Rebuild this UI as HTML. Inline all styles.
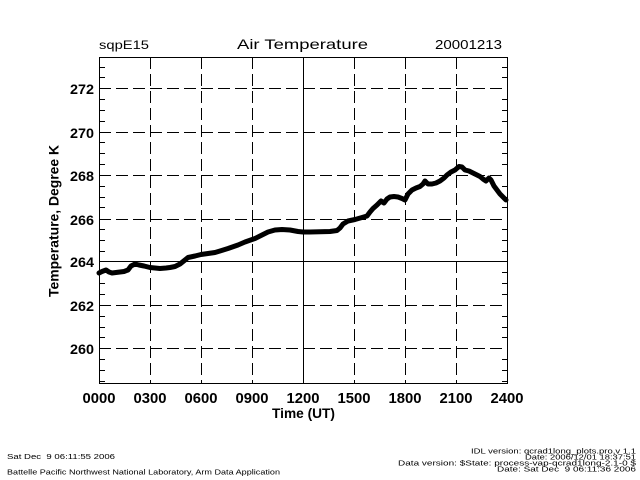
<!DOCTYPE html>
<html>
<head>
<meta charset="utf-8">
<style>
html,body{margin:0;padding:0;background:#fff;}
svg{display:block;}
text{font-family:"Liberation Sans",sans-serif;fill:#000;}
</style>
</head>
<body>
<svg width="640" height="480" viewBox="0 0 640 480" xmlns="http://www.w3.org/2000/svg">
<rect width="640" height="480" fill="#fff"/>

<!-- header texts -->
<text x="99" y="49" font-size="12" textLength="50" lengthAdjust="spacingAndGlyphs">sqpE15</text>
<text x="237" y="49" font-size="14" textLength="131" lengthAdjust="spacingAndGlyphs">Air Temperature</text>
<text x="435" y="49" font-size="13" textLength="67" lengthAdjust="spacingAndGlyphs">20001213</text>

<!-- grid -->
<g stroke="#000" stroke-width="1" fill="none" shape-rendering="crispEdges">
  <g stroke-dasharray="12,5">
    <line x1="99" y1="88.5" x2="507" y2="88.5"/>
    <line x1="99" y1="132.5" x2="507" y2="132.5"/>
    <line x1="99" y1="175.5" x2="507" y2="175.5"/>
    <line x1="99" y1="219.5" x2="507" y2="219.5"/>
    <line x1="99" y1="305.5" x2="507" y2="305.5"/>
    <line x1="99" y1="348.5" x2="507" y2="348.5"/>
    <line x1="150.5" y1="57" x2="150.5" y2="383"/>
    <line x1="201.5" y1="57" x2="201.5" y2="383"/>
    <line x1="252.5" y1="57" x2="252.5" y2="383"/>
    <line x1="354.5" y1="57" x2="354.5" y2="383"/>
    <line x1="405.5" y1="57" x2="405.5" y2="383"/>
    <line x1="456.5" y1="57" x2="456.5" y2="383"/>
  </g>
  <line x1="99" y1="261.5" x2="507" y2="261.5"/>
  <line x1="303.5" y1="57" x2="303.5" y2="383"/>
  <!-- frame -->
  <rect x="99.5" y="57.5" width="408" height="326"/>
  <!-- minor ticks -->
  <path d="M99 381.5h6M99 370.5h6M99 359.5h6M99 337.5h6M99 327.5h6M99 316.5h6M99 294.5h6M99 283.5h6M99 272.5h6M99 251.5h6M99 240.5h6M99 229.5h6M99 207.5h6M99 197.5h6M99 186.5h6M99 164.5h6M99 153.5h6M99 142.5h6M99 121.5h6M99 110.5h6M99 99.5h6M99 77.5h6M99 67.5h6
           M502 381.5h6M502 370.5h6M502 359.5h6M502 337.5h6M502 327.5h6M502 316.5h6M502 294.5h6M502 283.5h6M502 272.5h6M502 251.5h6M502 240.5h6M502 229.5h6M502 207.5h6M502 197.5h6M502 186.5h6M502 164.5h6M502 153.5h6M502 142.5h6M502 121.5h6M502 110.5h6M502 99.5h6M502 77.5h6M502 67.5h6"/>
</g>

<!-- data -->
<polyline fill="none" stroke="#000" stroke-width="5" stroke-linejoin="round" stroke-linecap="round"
points="99,273 102,271.5 106,270 109,272 112,273 116,272.5 120,272 124,271.5 128,270 131,266 135,264 139,265 144,266 150,267.5 155,268 160,268.5 166,268 170,267.5 175,266.5 180,264 185,260 188,257.5 195,256 201,254.5 208,253.5 215,252.5 220,251 228,248.5 238,245 245,242 255,238.5 262,235 268,232 275,230 282,229.5 290,230 298,231.5 303,232 310,232 320,231.8 330,231.5 337,230.5 340,228 343,224 348,221 355,219.5 362,217.5 367,216 370,212 373,208.5 377,205 381,201 384,203 387,199 390,197 394,196.5 398,197 402,198.5 405,200 408,194 412,190 416,188 420,186.5 423,184 425,181 428,184 432,184 436,183 440,181 444,178 447,175 451,172 455,170 459,166.5 462,167 465,170 469,171 473,173 477,175 480,176.5 483,179 486,181 489,178 491,180 494,186 497,190 500,194 503,197 506,200"/>

<!-- y tick labels -->
<g font-size="14" font-weight="bold" text-anchor="end">
  <text x="94" y="94" textLength="24" lengthAdjust="spacingAndGlyphs">272</text>
  <text x="94" y="138" textLength="24" lengthAdjust="spacingAndGlyphs">270</text>
  <text x="94" y="181" textLength="24" lengthAdjust="spacingAndGlyphs">268</text>
  <text x="94" y="225" textLength="24" lengthAdjust="spacingAndGlyphs">266</text>
  <text x="94" y="267" textLength="24" lengthAdjust="spacingAndGlyphs">264</text>
  <text x="94" y="311" textLength="24" lengthAdjust="spacingAndGlyphs">262</text>
  <text x="94" y="354" textLength="24" lengthAdjust="spacingAndGlyphs">260</text>
</g>

<!-- x tick labels -->
<g font-size="14.5" font-weight="bold" text-anchor="middle">
  <text x="99" y="403" textLength="33" lengthAdjust="spacingAndGlyphs">0000</text>
  <text x="150" y="403" textLength="33" lengthAdjust="spacingAndGlyphs">0300</text>
  <text x="201" y="403" textLength="33" lengthAdjust="spacingAndGlyphs">0600</text>
  <text x="252" y="403" textLength="33" lengthAdjust="spacingAndGlyphs">0900</text>
  <text x="303" y="403" textLength="33" lengthAdjust="spacingAndGlyphs">1200</text>
  <text x="354" y="403" textLength="33" lengthAdjust="spacingAndGlyphs">1500</text>
  <text x="405" y="403" textLength="33" lengthAdjust="spacingAndGlyphs">1800</text>
  <text x="456" y="403" textLength="33" lengthAdjust="spacingAndGlyphs">2100</text>
  <text x="507" y="403" textLength="33" lengthAdjust="spacingAndGlyphs">2400</text>
</g>

<!-- axis titles -->
<text x="272" y="418" font-size="14" font-weight="bold" textLength="63" lengthAdjust="spacingAndGlyphs">Time (UT)</text>
<text transform="translate(58.5,221) rotate(-90)" x="0" y="0" font-size="14" font-weight="bold" text-anchor="middle" textLength="152" lengthAdjust="spacingAndGlyphs">Temperature, Degree K</text>

<!-- footer -->
<g font-size="7">
  <text x="7" y="459" textLength="108" lengthAdjust="spacingAndGlyphs">Sat Dec &#160;9 06:11:55 2006</text>
  <text x="7" y="474.5" textLength="273" lengthAdjust="spacingAndGlyphs">Battelle Pacific Northwest National Laboratory, Arm Data Application</text>
  <text x="471" y="453.5" textLength="165" lengthAdjust="spacingAndGlyphs">IDL version: qcrad1long_plots.pro,v 1.1</text>
  <text x="525" y="459.5" textLength="111" lengthAdjust="spacingAndGlyphs">Date: 2006/12/01 18:37:51</text>
  <text x="398" y="465.5" textLength="238" lengthAdjust="spacingAndGlyphs">Data version: $State: process-vap-qcrad1long-2.1-0 $</text>
  <text x="497" y="471.5" textLength="139" lengthAdjust="spacingAndGlyphs">Date: Sat Dec &#160;9 06:11:36 2006</text>
</g>
</svg>
</body>
</html>
